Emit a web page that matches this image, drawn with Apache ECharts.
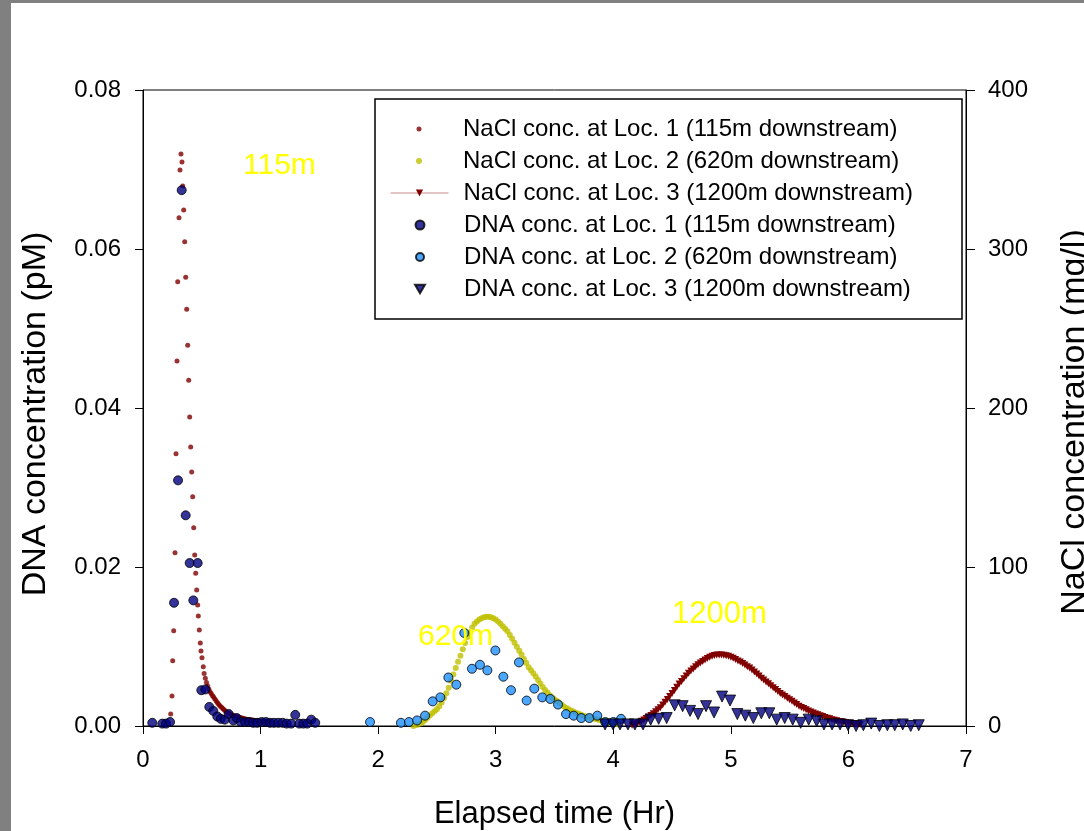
<!DOCTYPE html>
<html>
<head>
<meta charset="utf-8">
<script src="https://cdn.jsdelivr.net/npm/echarts@6/dist/echarts.min.js"></script>
<style>
html,body{margin:0;padding:0;background:#fff;overflow:hidden;}
#chart{width:1084px;height:831px;}
</style>
</head>
<body>
<div id="chart"></div>
<script>
// ---- DATA (time in hours) ----
const seriesNames = [
  'NaCl conc. at Loc. 1 (115m downstream)',
  'NaCl conc. at Loc. 2 (620m downstream)',
  'NaCl conc. at Loc. 3 (1200m downstream)',
  'DNA conc. at Loc. 1 (115m downstream)',
  'DNA conc. at Loc. 2 (620m downstream)',
  'DNA conc. at Loc. 3 (1200m downstream)'
];
const xTicks = [0,1,2,3,4,5,6,7];
const leftTicks = [0,0.02,0.04,0.06,0.08];
const rightTicks = [0,100,200,300,400];
const annotations = ['115m','620m','1200m'];

// NaCl (mg/l), right axis
const nacl1 = [
 [0.2356,7.5],[0.2467,18.9],[0.2526,41.1],[0.2611,59.9],[0.2722,109.0],[0.2807,171.2],[0.2892,229.5],
 [0.2951,279.4],[0.3062,319.7],[0.3147,349.7],[0.3232,359.7],[0.3317,354.7],[0.3377,339.6],[0.3462,324.5],
 [0.3547,304.6],[0.3632,282.2],[0.3717,262.1],[0.3802,239.4],[0.3887,217.4],[0.3972,194.3],[0.4057,175.5],
 [0.4142,159.7],[0.4227,144.2],[0.4312,124.7],[0.4397,107.5],[0.4482,96.0],[0.4567,85.5],[0.4653,76.1],
 [0.4704,69.2],[0.4789,60.4],[0.4874,52.2],[0.4933,47.2],[0.5018,43.0],[0.5129,37.3],
 [0.52,33.0],[0.53,30.0],[0.54,27.3],[0.55,25.2],[0.56,23.3],[0.57,21.6],[0.58,20.4],[0.59,19.2],
 [0.60,18.2],[0.61,17.2],[0.62,16.1],[0.63,15.0],[0.64,14.0],[0.65,13.0],[0.66,12.3],[0.67,11.6],
 [0.68,10.9],[0.69,10.2],[0.70,9.5],[0.71,9.0],[0.72,8.5],[0.73,8.0],[0.74,7.5],[0.75,7.2],[0.76,6.9],
 [0.77,6.6],[0.78,6.3],[0.79,6.0],[0.80,5.8],[0.81,5.6],[0.82,5.4],[0.83,5.2],[0.84,5.0],[0.85,4.8],
 [0.86,4.6],[0.87,4.4],[0.88,4.2],[0.89,4.1],[0.90,4.0],[0.91,3.9],[0.92,3.8],[0.93,3.7],[0.94,3.6],
 [0.95,3.5],[0.96,3.4],[0.97,3.3],[0.98,3.2],[0.99,3.1],[1.00,3.0],[1.01,3.0],[1.02,2.9],[1.03,2.9],
 [1.04,2.8],[1.05,2.8],[1.06,2.8],[1.07,2.7],[1.08,2.7]
];
const nacl2 = [
 [2.30,0],[2.33,0.6],[2.36,1.5],[2.38,2.5],[2.40,3.8],[2.42,5.2],[2.44,6.6],[2.46,8.0],[2.48,9.3],[2.50,10.5],
 [2.52,12.4],[2.54,14.8],[2.56,17.6],[2.58,20.6],[2.60,24.0],[2.62,28.5],[2.64,32.4],[2.66,36.4],[2.68,40.4],
 [2.70,44.2],[2.72,48.3],[2.74,52.2],[2.76,55.9],[2.78,59.0],[2.80,62.0],[2.82,64.3],[2.84,65.8],[2.86,67.0],
 [2.88,67.8],[2.90,68.4],[2.92,68.7],[2.94,68.7],[2.96,68.4],[2.98,67.8],[3.00,67.0],[3.02,65.7],[3.04,64.3],
 [3.06,62.8],[3.08,61.2],[3.10,59.6],[3.12,57.2],[3.14,54.8],[3.16,52.3],[3.18,49.8],[3.20,47.4],[3.22,45.0],
 [3.24,42.2],[3.26,39.6],[3.28,37.0],[3.30,35.0],[3.32,33.1],[3.34,31.2],[3.36,28.9],[3.38,26.7],[3.40,24.6],
 [3.42,22.6],[3.44,21.0],[3.46,19.4],[3.48,18.0],[3.50,16.9],[3.52,15.8],[3.54,14.7],[3.56,13.6],[3.58,12.3],
 [3.60,11.3],[3.62,10.5],[3.64,9.8],[3.66,9.1],[3.68,8.4],[3.70,7.8],[3.72,7.2],[3.74,6.6],[3.76,6.1],
 [3.78,5.6],[3.80,5.2],[3.82,4.9],[3.84,4.5],[3.86,4.2],[3.88,3.8],[3.90,3.5],[3.92,3.2],[3.94,2.8],
 [3.96,2.4],[3.98,2.0],[4.00,1.7],[4.02,1.4],[4.04,1.1]
];
const nacl3 = [
 [4.16,0.5],[4.18,1.0],[4.20,1.5],[4.22,2.2],[4.24,3.0],[4.26,3.8],[4.28,4.7],[4.30,5.6],[4.32,6.6],[4.34,7.7],
 [4.36,8.9],[4.38,10.2],[4.40,11.5],[4.42,13.2],[4.44,14.9],[4.46,16.7],[4.48,18.5],[4.50,20.4],[4.52,22.4],
 [4.54,24.4],[4.56,26.4],[4.58,28.0],[4.60,29.7],[4.62,31.4],[4.64,33.2],[4.66,34.6],[4.68,35.9],[4.70,37.2],
 [4.72,38.5],[4.74,39.6],[4.76,40.6],[4.78,41.5],[4.80,42.4],[4.82,43.2],[4.84,43.8],[4.86,44.3],[4.88,44.6],
 [4.90,44.7],[4.92,44.7],[4.94,44.5],[4.96,44.2],[4.98,43.8],[5.00,43.3],[5.02,42.6],[5.04,41.8],[5.06,40.9],
 [5.08,40.2],[5.10,39.3],[5.12,38.3],[5.14,37.3],[5.16,36.4],[5.18,35.2],[5.20,34.0],[5.22,32.7],[5.24,31.4],
 [5.26,30.1],[5.28,28.9],[5.30,27.7],[5.32,26.5],[5.34,25.3],[5.36,24.1],[5.38,22.9],[5.40,21.7],[5.42,20.5],
 [5.44,19.5],[5.46,18.5],[5.48,17.4],[5.50,16.5],[5.52,15.5],[5.54,14.5],[5.56,13.5],[5.58,12.5],[5.60,11.7],
 [5.62,11.0],[5.64,10.2],[5.66,9.4],[5.68,8.8],[5.70,8.1],[5.72,7.6],[5.74,7.0],[5.76,6.4],[5.78,5.9],
 [5.80,5.4],[5.82,4.9],[5.84,4.5],[5.86,4.0],[5.88,3.6],[5.90,3.3],[5.92,2.9],[5.94,2.6],[5.96,2.3],
 [5.98,2.0],[6.00,1.8],[6.02,1.6],[6.04,1.4],[6.06,1.2],[6.08,1.0],[6.10,0.9]
];

// DNA (pM), left axis
const dna1 = [
 [0.079,0.0004],[0.164,0.0003],[0.196,0.0003],[0.230,0.0005],[0.264,0.0155],[0.298,0.0309],[0.329,0.0674],
 [0.363,0.0265],[0.397,0.0205],[0.428,0.0158],[0.465,0.0205],[0.496,0.0045],[0.530,0.0046],[0.564,0.0024],
 [0.598,0.0019],[0.632,0.0012],[0.661,0.0009],[0.695,0.0008],[0.729,0.0015],[0.768,0.0007],[0.797,0.0010],
 [0.831,0.0005],[0.868,0.0005],[0.904,0.0005],[0.938,0.0004],[0.972,0.0004],[1.010,0.0005],[1.046,0.0005],
 [1.080,0.0004],[1.114,0.0004],[1.151,0.0004],[1.188,0.0004],[1.222,0.0003],[1.261,0.0003],[1.295,0.0014],
 [1.329,0.0003],[1.363,0.0003],[1.397,0.0003],[1.431,0.0008],[1.465,0.0004]
];
const dna2 = [
 [1.931,0.0005],[2.194,0.0004],[2.262,0.0005],[2.331,0.0007],[2.399,0.0013],[2.464,0.0031],[2.529,0.0036],
 [2.597,0.0061],[2.665,0.0052],[2.733,0.0117],[2.798,0.0072],[2.866,0.0077],[2.929,0.0070],[2.997,0.0095],
 [3.065,0.0062],[3.130,0.0045],[3.198,0.0080],[3.263,0.0032],[3.328,0.0047],[3.396,0.0036],[3.464,0.0034],
 [3.530,0.0027],[3.598,0.0015],[3.663,0.0013],[3.728,0.0010],[3.796,0.0010],[3.864,0.0013],[3.932,0.0005],
 [4.000,0.0005],[4.066,0.0009]
];
const dna3 = [
 [3.930,0.0002],[3.998,0.0002],[4.057,0.0002],[4.125,0.0002],[4.184,0.0002],[4.253,0.0002],[4.318,0.0008],
 [4.386,0.0009],[4.454,0.0010],[4.522,0.0026],[4.590,0.0025],[4.653,0.0019],[4.721,0.0015],[4.789,0.0025],
 [4.857,0.0017],[4.925,0.0037],[4.993,0.0032],[5.055,0.0015],[5.123,0.0013],[5.191,0.0010],[5.259,0.0016],
 [5.327,0.0016],[5.390,0.0008],[5.458,0.0010],[5.526,0.0008],[5.594,0.0004],[5.662,0.0008],[5.730,0.0006],
 [5.792,0.0002],[5.861,0.0002],[5.929,0.0002],[5.997,0.0001],[6.065,0.0000],[6.127,0.0001],[6.194,0.0003],
 [6.263,0.0000],[6.331,0.0001],[6.394,0.0001],[6.462,0.0002],[6.530,0.0000],[6.598,0.0001]
];

// ---- STYLE / LAYOUT ----
const FONT = '"Liberation Sans", Arial, sans-serif';
const rowCenters = [129, 161, 193, 225, 257, 289];
const iconSizes = [5, 6, 9, 9, 8, 10];
const ICON_CX = 419, TEXT_X = 463;
const downTri = 'path://M0,0L10,0L5,8.66Z';

const chart = echarts.init(document.getElementById('chart'), null, {renderer:'canvas'});

const legends = seriesNames.map((name, i) => {
  const isLine = (i === 2);
  const h = iconSizes[i];
  const w = isLine ? 58 : h;
  const left = ICON_CX - w / 2;
  const spacer = TEXT_X - (left + w + 5);
  const item = (i === 5) ? {name: name, icon: downTri} : {name: name};
  return {
    data: [item],
    left: left,
    top: rowCenters[i] - 12,
    orient: 'horizontal',
    padding: 0,
    itemWidth: w,
    itemHeight: h,
    selectedMode: false,
    lineStyle: {width: 1, color: '#c98a8a'},
    formatter: n => '{s| }' + n,
    textStyle: {fontFamily: FONT, fontSize: 24, color: '#000', lineHeight: 24,
      rich: {s: {width: spacer, fontSize: 24, fontFamily: FONT}}},
    z: 10
  };
});

const option = {
  animation: false,
  backgroundColor: '#fff',
  grid: {left: 143, right: 118, top: 90, bottom: 105, show: true, borderColor: '#000', borderWidth: 1,
         backgroundColor: 'transparent', containLabel: false, outerBoundsMode: 'none'},
  legend: legends,
  graphic: [
    {type:'rect', shape:{x:0,y:0,width:11,height:831}, style:{fill:'#808080'}, z:1},
    {type:'rect', shape:{x:0,y:0,width:1084,height:3}, style:{fill:'#808080'}, z:1},
    {type:'rect', shape:{x:375,y:99,width:587,height:220}, style:{fill:'#fff', stroke:'#000', lineWidth:1.5}, z:1},
    {type:'text', x:243, y:166, style:{text:annotations[0], fill:'#ffff00', font:'30px "Liberation Sans", Arial, sans-serif', verticalAlign:'middle'}, z:5},
    {type:'text', x:418, y:637, style:{text:annotations[1], fill:'#ffff00', font:'30px "Liberation Sans", Arial, sans-serif', verticalAlign:'middle'}, z:5},
    {type:'text', x:672, y:614, style:{text:annotations[2], fill:'#ffff00', font:'31px "Liberation Sans", Arial, sans-serif', verticalAlign:'middle'}, z:5}
  ],
  xAxis: {
    type: 'value', min: xTicks[0], max: xTicks[xTicks.length-1], interval: 1,
    axisLine: {show: true, onZero: false, lineStyle: {color:'#000', width:1}},
    axisTick: {show: true, length: 8, lineStyle: {color:'#000', width:1}},
    axisLabel: {fontFamily: FONT, fontSize: 24, color:'#000', margin: 22},
    splitLine: {show: false},
    name: 'Elapsed time (Hr)', nameLocation: 'middle', nameGap: 73,
    nameTextStyle: {fontFamily: FONT, fontSize: 31, color:'#000'}
  },
  yAxis: [
    {
      type: 'value', min: leftTicks[0], max: leftTicks[leftTicks.length-1], interval: 0.02, position: 'left',
      axisLine: {show: true, lineStyle: {color:'#000', width:1}},
      axisTick: {show: true, length: 8, lineStyle: {color:'#000', width:1}},
      axisLabel: {fontFamily: FONT, fontSize: 24, color:'#000', margin: 22, formatter: v => v.toFixed(2)},
      splitLine: {show: false},
      name: 'DNA concentration (pM)', nameLocation: 'middle', nameGap: 90,
      nameTextStyle: {fontFamily: FONT, fontSize: 34, color:'#000', padding: [0, 12, 0, 0]}
    },
    {
      type: 'value', min: rightTicks[0], max: rightTicks[rightTicks.length-1], interval: 100, position: 'right',
      axisLine: {show: true, lineStyle: {color:'#000', width:1}},
      axisTick: {show: true, length: 9, lineStyle: {color:'#000', width:1}},
      axisLabel: {fontFamily: FONT, fontSize: 24, color:'#000', margin: 22},
      splitLine: {show: false},
      name: 'NaCl concentration (mg/l)', nameLocation: 'middle', nameGap: 92,
      nameTextStyle: {fontFamily: FONT, fontSize: 34, color:'#000', padding: [0, 28, 0, 0]}
    }
  ],
  series: [
    {name: seriesNames[0], type:'scatter', yAxisIndex:1, data: nacl1, symbol:'circle', symbolSize:5,
     itemStyle:{color:'#800000'}, z:2},
    {name: seriesNames[1], type:'scatter', yAxisIndex:1, data: nacl2, symbol:'circle', symbolSize:6,
     itemStyle:{color:'#bfbf00'}, z:2},
    {name: seriesNames[2], type:'line', yAxisIndex:1, data: nacl3, symbol:'triangle', symbolRotate:180, symbolSize:7,
     showSymbol:true, showAllSymbol:true, lineStyle:{width:1, color:'#800000'}, itemStyle:{color:'#800000'}, z:2},
    {name: seriesNames[3], type:'scatter', yAxisIndex:0, data: dna1, symbol:'circle', symbolSize:9,
     itemStyle:{color:'#000080', borderColor:'#000', borderWidth:1}, z:3},
    {name: seriesNames[4], type:'scatter', yAxisIndex:0, data: dna2, symbol:'circle', symbolSize:9,
     itemStyle:{color:'#1e90ff', borderColor:'#000', borderWidth:1}, z:3},
    {name: seriesNames[5], type:'scatter', yAxisIndex:0, data: dna3, symbol:'triangle', symbolRotate:180, symbolSize:11,
     itemStyle:{color:'#000080', borderColor:'#000', borderWidth:1}, z:3}
  ]
};
chart.setOption(option);
</script>
</body>
</html>
